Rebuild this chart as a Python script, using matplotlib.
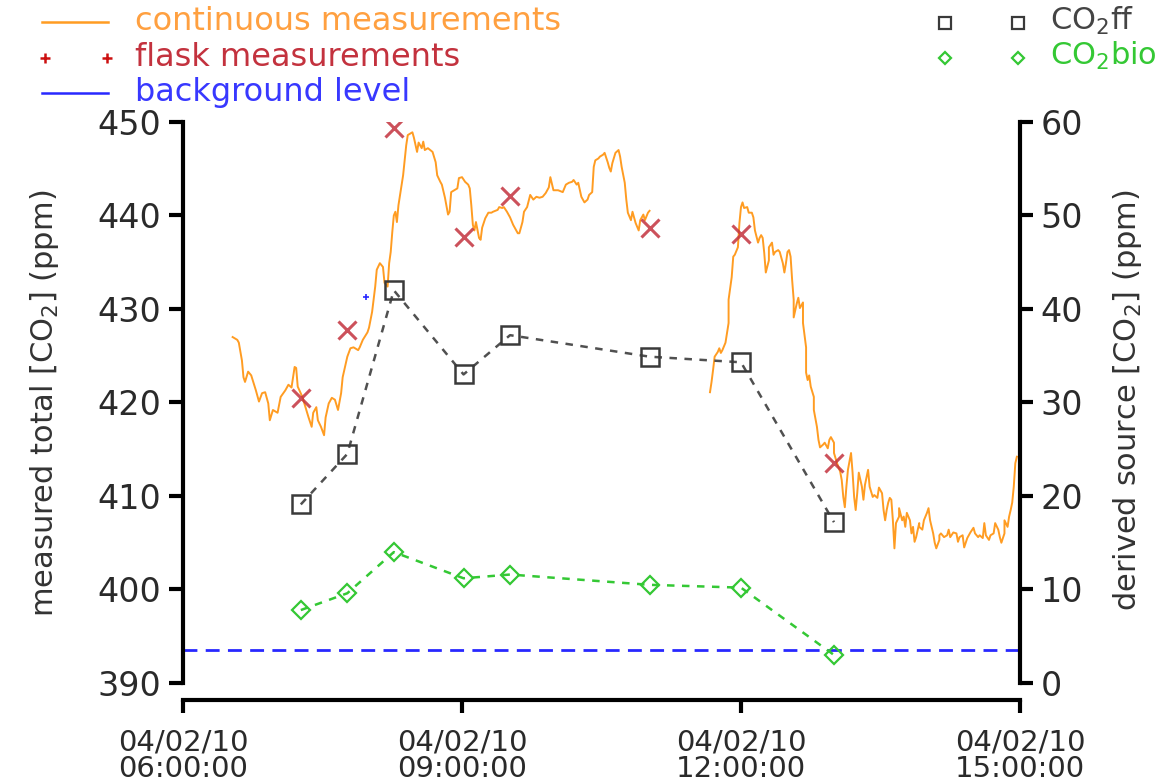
import datetime as dt

import matplotlib
matplotlib.use('Agg')
import matplotlib.pyplot as plt
from matplotlib.lines import Line2D

plt.rcParams['font.family'] = 'DejaVu Sans'
plt.rcParams['mathtext.default'] = 'regular'

day = dt.datetime(2010, 4, 2, 6, 0)

# continuous analyser record (minutes after 06:00, ppm), two stretches
cont1_min = [32, 35, 36, 38, 39, 40, 42, 44, 47, 49,
             51, 53, 55, 56, 58, 61, 63, 66, 68, 70,
             72, 73, 74, 77, 79, 81, 83, 84, 86, 87,
             89, 91, 92, 94, 96, 98, 100, 102, 103, 106,
             108, 110, 113, 114, 116, 119, 120, 122, 124, 125,
             127, 129, 130, 132, 133, 134, 135, 136, 137, 138,
             139, 142, 144, 145, 148, 149, 151, 152, 154, 155,
             156, 158, 161, 163, 164, 166, 167, 169, 171, 172,
             173, 175, 177, 178, 180, 182, 184, 185, 186, 187,
             188, 189, 191, 192, 193, 195, 197, 199, 200, 203,
             204, 206, 207, 209, 211, 213, 216, 217, 219, 220,
             222, 224, 226, 228, 230, 232, 234, 236, 237, 239,
             241, 242, 245, 247, 249, 251, 252, 254, 255, 257,
             259, 261, 262, 264, 265, 266, 268, 269, 271, 272,
             274, 275, 276, 277, 279, 281, 282, 283, 285, 286,
             287, 289, 290, 292, 294, 295, 297, 298, 300, 301]
cont1_ppm = [427.0, 426.7, 426.4, 424.5, 422.7, 422.2, 423.3, 422.9, 421.3, 420.1,
             421.0, 421.1, 419.9, 418.1, 419.2, 418.9, 420.6, 421.3, 421.9, 421.6,
             423.8, 423.7, 421.7, 420.6, 419.5, 418.4, 417.4, 418.9, 419.5, 418.1,
             417.4, 416.5, 418.4, 419.9, 420.5, 420.3, 419.2, 421.0, 422.7, 424.9,
             425.8, 425.9, 425.6, 425.9, 426.7, 427.5, 428.0, 429.7, 432.4, 434.2,
             434.9, 434.5, 432.8, 432.4, 434.9, 436.1, 438.2, 440.0, 440.4, 439.3,
             441.1, 444.3, 447.5, 448.6, 448.9, 448.3, 446.8, 447.8, 447.2, 447.9,
             447.0, 447.2, 446.8, 445.7, 444.3, 443.6, 443.3, 441.9, 440.1, 440.4,
             442.5, 442.7, 442.9, 444.0, 444.1, 443.6, 443.3, 442.9, 441.1, 439.0,
             438.4, 439.3, 437.6, 437.4, 438.7, 439.7, 440.3, 440.3, 440.4, 440.6,
             440.9, 440.8, 440.9, 440.4, 439.8, 439.0, 438.1, 438.1, 439.3, 440.4,
             440.9, 442.2, 441.7, 442.0, 441.9, 442.0, 442.4, 443.0, 444.1, 442.7,
             442.7, 442.7, 442.5, 443.3, 443.5, 443.6, 443.8, 443.3, 443.5, 442.0,
             441.4, 441.7, 442.2, 442.5, 445.2, 445.9, 446.1, 446.3, 446.5, 446.7,
             445.7, 445.1, 444.7, 445.6, 446.7, 447.0, 446.3, 445.2, 443.5, 441.7,
             440.3, 439.5, 440.4, 439.2, 438.4, 439.5, 440.1, 439.5, 440.3, 440.5]

cont2_min = [340, 341, 342, 343, 345, 346, 347, 348, 350, 352,
             352, 354, 355, 356, 358, 359, 360, 361, 362, 364,
             365, 367, 368, 369, 371, 372, 373, 374, 375, 376,
             378, 378, 380, 381, 382, 384, 385, 387, 388, 389,
             390, 391, 392, 393, 394, 394, 396, 397, 398, 400,
             400, 402, 402, 403, 404, 405, 407, 407, 409, 410,
             411, 413, 414, 416, 417, 418, 420, 420, 422, 424,
             425, 426, 427, 428, 429, 431, 432, 433, 434, 435,
             436, 438, 439, 440, 442, 443, 445, 446, 448, 449,
             451, 452, 453, 454, 455, 456, 457, 458, 459, 460,
             462, 462, 464, 465, 466, 467, 469, 470, 471, 472,
             473, 475, 475, 477, 478, 480, 481, 482, 483, 484,
             485, 486, 488, 488, 489, 491, 493, 494, 495, 497,
             499, 500, 501, 503, 504, 506, 508, 510, 511, 513,
             514, 516, 517, 518, 520, 521, 523, 524, 526, 527,
             528, 530, 530, 532, 533, 534, 535, 536, 537, 538]
cont2_ppm = [421.1, 422.2, 423.5, 424.9, 425.4, 425.8, 425.3, 425.6, 426.4, 428.5,
             431.0, 433.4, 435.6, 435.8, 436.6, 439.2, 440.9, 441.4, 440.8, 440.9,
             440.3, 440.3, 439.8, 438.4, 437.1, 437.6, 437.9, 437.6, 436.0, 433.9,
             435.2, 436.6, 437.1, 435.8, 436.1, 436.3, 436.1, 434.9, 433.9, 434.9,
             436.1, 436.3, 435.6, 433.1, 431.0, 429.1, 430.6, 431.2, 430.1, 430.7,
             428.5, 425.9, 423.2, 422.4, 422.9, 421.7, 420.6, 419.2, 417.4, 416.0,
             415.2, 415.5, 415.7, 415.1, 416.0, 416.3, 415.7, 414.6, 413.5, 412.6,
             411.7, 409.9, 408.8, 411.0, 412.8, 414.6, 412.5, 409.9, 408.5, 410.3,
             412.5, 411.0, 409.6, 411.2, 412.8, 411.0, 409.9, 410.1, 409.8, 410.9,
             410.3, 408.5, 407.4, 408.5, 409.3, 409.8, 409.6, 407.4, 404.4, 407.1,
             407.8, 408.7, 407.4, 407.8, 406.7, 408.2, 407.4, 406.0, 406.7, 405.1,
             405.6, 407.1, 406.7, 406.4, 407.4, 408.2, 408.7, 407.4, 406.7, 406.0,
             405.0, 404.4, 405.3, 405.8, 406.0, 405.6, 405.8, 406.4, 405.6, 406.1,
             406.0, 405.1, 405.6, 405.8, 404.5, 405.5, 406.1, 406.6, 406.0, 405.6,
             405.8, 405.5, 407.1, 405.8, 405.3, 405.8, 406.0, 407.1, 406.4, 405.6,
             405.0, 406.0, 407.4, 406.7, 407.8, 408.5, 409.3, 411.0, 413.5, 414.2]

# flask samples and the source split derived from them
flask_min = [76, 106, 136, 181, 211, 301, 360, 420]
flask_ppm = [420.5, 427.8, 449.4, 437.7, 442.1, 438.7, 438.0, 413.5]
co2ff = [19.1, 24.5, 42.0, 33.0, 37.2, 34.9, 34.3, 17.2]
co2bio = [7.8, 9.6, 14.0, 11.2, 11.6, 10.5, 10.2, 3.0]

background_ppm = 393.5
bg_flask_min = [118]
bg_flask_ppm = [431.3]

tick_hours = [0, 3, 6, 9]

ORANGE = '#FF9C22'
RED = '#C3323E'
BLUE = '#2828FF'
GREY = '#3A3A3A'
GREEN = '#34C834'
INK = '#2a2a2a'


def to_time(mins):
    return [day + dt.timedelta(minutes=m) for m in mins]


fig = plt.figure(figsize=(11.74, 7.82), dpi=100)
ax = fig.add_axes([0.1559, 0.1266, 0.7129, 0.7174])

ax.plot(to_time(cont1_min), cont1_ppm, color=ORANGE, lw=1.4, zorder=3)
ax.plot(to_time(cont2_min), cont2_ppm, color=ORANGE, lw=1.4, zorder=3)
ax.plot(to_time(flask_min), flask_ppm, ls='none', marker='x', ms=13,
        mew=2.2, color=RED, alpha=0.85, zorder=4)
ax.plot(to_time(bg_flask_min), bg_flask_ppm, ls='none', marker='+', ms=4,
        mew=1.2, color=BLUE)
ax.axhline(background_ppm, color=BLUE, lw=2, dashes=(5, 3))

ax.set_ylim(390, 450)
ax.set_xlim(day, day + dt.timedelta(hours=9))
ticks = [day + dt.timedelta(hours=h) for h in tick_hours]
ax.set_xticks(ticks)
ax.set_xticklabels([t.strftime('%m/%d/%y\n%H:%M:%S') for t in ticks])
ax.set_yticks(range(390, 451, 10))

ax2 = ax.twinx()
ax2.plot(to_time(flask_min), co2ff, color='#505050', lw=1.8, dashes=(3, 3),
         marker='s', ms=13, mfc='none', mec=GREY, mew=1.8)
ax2.plot(to_time(flask_min), co2bio, color=GREEN, lw=1.8, dashes=(3, 3),
         marker='D', ms=9, mfc='none', mec=GREEN, mew=1.6)
ax2.set_ylim(0, 60)
ax2.set_yticks(range(0, 61, 10))

for a in (ax, ax2):
    a.spines['top'].set_visible(False)
    for s in a.spines.values():
        s.set_linewidth(3)
ax.spines['right'].set_visible(False)
ax2.spines['left'].set_visible(False)
ax2.spines['bottom'].set_visible(False)
ax.spines['bottom'].set_position(('outward', 12))

ax.tick_params(axis='y', direction='out', length=10, width=3,
               labelsize=24, pad=6, labelcolor=INK)
ax2.tick_params(axis='y', direction='out', length=9, width=3,
                labelsize=24, pad=6, labelcolor=INK)
ax.tick_params(axis='x', direction='out', length=9, width=3, pad=12,
               labelsize=21, labelcolor=INK)
for lbl in ax.get_xticklabels():
    lbl.set_linespacing(0.9)

fig.text(45 / 1174, 1 - 403 / 782, 'measured total [CO$_2$] (ppm)',
         rotation=90, ha='center', va='center', fontsize=22, color='#333333')
fig.text(1127 / 1174, 1 - 400 / 782, 'derived source [CO$_2$] (ppm)',
         rotation=90, ha='center', va='center', fontsize=22, color='#333333')

# legend, top left
W, H = 1174.0, 782.0


def fx(px):
    return px / W


def fy(py):
    return 1 - py / H


fig.add_artist(Line2D([fx(42), fx(108)], [fy(22), fy(22)], color=ORANGE, lw=1.8))
fig.add_artist(Line2D([fx(45), fx(107)], [fy(58), fy(58)], ls='none',
                      marker='+', ms=7, mew=1.8, color='#CC1010'))
fig.add_artist(Line2D([fx(42), fx(108)], [fy(93), fy(93)], color=BLUE, lw=1.8))
fig.text(fx(135), fy(22), 'continuous measurements', fontsize=23,
         color='#FFA040', va='center')
fig.text(fx(135), fy(58), 'flask measurements', fontsize=23,
         color=RED, va='center')
fig.text(fx(135), fy(93), 'background level', fontsize=23,
         color='#3838FF', va='center')

# legend, top right
fig.add_artist(Line2D([fx(945), fx(1018)], [fy(23), fy(23)], ls='none',
                      marker='s', ms=8, mfc='none', mec=GREY, mew=1.6))
fig.add_artist(Line2D([fx(945), fx(1018)], [fy(58), fy(58)], ls='none',
                      marker='D', ms=6, mfc='none', mec=GREEN, mew=1.6))
fig.text(fx(1050), fy(21), 'CO$_2$ff', fontsize=22, color='#444444', va='center')
fig.text(fx(1050), fy(56), 'CO$_2$bio', fontsize=22, color=GREEN, va='center')

fig.savefig('out.png', dpi=100)
